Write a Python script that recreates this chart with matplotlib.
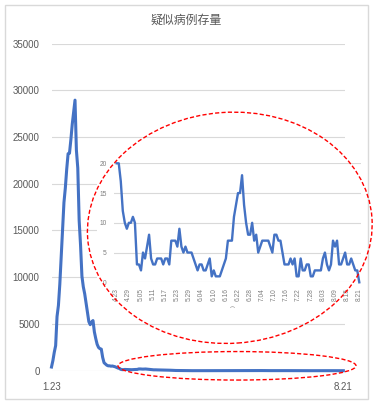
import matplotlib
matplotlib.use('Agg')
import matplotlib.pyplot as plt
import numpy as np
import pandas as pd
from matplotlib.patches import Ellipse, Rectangle

plt.rcParams['font.family'] = ['Liberation Sans', 'Noto Sans CJK SC', 'DejaVu Sans']

# categories: one point per day, 1.23 -> 8.21
dates = pd.date_range('2020-01-23', '2020-08-21')
date_labels = [f'{d.month}.{d.day:02d}' for d in dates]

# suspected cases, 1.23 -> 4.22
early_values = [393, 1072, 1965, 2684, 5794, 6973, 9239, 12167, 15238, 17988,
                19544, 21558, 23214, 23260, 24702, 26359, 27657, 28942, 23589, 21675,
                16067, 13435, 10109, 8969, 8228, 7264, 6242, 5248, 4922, 5206,
                5365, 4148, 3434, 2824, 2491, 2358, 2308, 1418, 851, 715,
                587, 520, 522, 482, 502, 458, 421, 349, 285, 253,
                147, 115, 113, 134, 128, 119, 105, 104, 106, 118,
                136, 132, 134, 184, 189, 174, 168, 174, 183, 172,
                153, 135, 112, 107, 91, 94, 85, 84, 81, 73,
                72, 72, 72, 65, 62, 57, 50, 41, 34, 26,
                23]

# suspected cases, 4.23 -> 8.21
late_values = [20, 20, 17, 12, 10, 9, 10, 10, 11, 10,
               3, 3, 2, 5, 4, 6, 8, 4, 3, 3,
               4, 4, 4, 3, 4, 4, 3, 7, 7, 7,
               6, 9, 6, 5, 6, 5, 5, 5, 4, 3,
               2, 3, 3, 2, 2, 3, 4, 1, 2, 1,
               1, 1, 2, 3, 4, 7, 7, 7, 11, 13,
               15, 15, 18, 13, 10, 8, 8, 10, 7, 8,
               5, 6, 7, 7, 7, 7, 6, 5, 8, 8,
               7, 7, 5, 3, 3, 3, 4, 3, 4, 1,
               1, 4, 2, 2, 3, 3, 1, 1, 2, 2,
               2, 2, 4, 5, 3, 2, 3, 7, 6, 7,
               3, 3, 4, 5, 3, 3, 4, 3, 2, 2,
               0]

values = early_values + late_values
late_labels = date_labels[len(early_values):]

W, H = 376, 405
BLUE = '#4472C4'
GRID = '#D9D9D9'

fig = plt.figure(figsize=(W / 100, H / 100), dpi=100)


# pixel box (left, top, right, bottom) -> figure fraction rect
def box(l, t, r, b):
    return [l / W, 1 - b / H, (r - l) / W, (b - t) / H]


# main chart
ax = fig.add_axes(box(51.5, 43.5, 345, 370.7))
ax.plot(np.arange(len(values)), values, color=BLUE, lw=2.2, clip_on=False,
        solid_joinstyle='round')
ax.set_xlim(0, 212.2)
ax.set_ylim(0, 35000)
ax.set_yticks(range(0, 35001, 5000))
ax.grid(axis='y', color=GRID, lw=0.8)
ax.set_axisbelow(True)
for s in ax.spines.values():
    s.set_visible(False)
ax.tick_params(length=0, labelsize=7, labelcolor='#595959')
ax.tick_params(axis='y', pad=8.6)
ax.tick_params(axis='x', pad=8)
ax.set_xticks([0, len(values) - 1], [date_labels[0], date_labels[-1]])

# white backing of the pasted inset
bg = fig.add_axes(box(97, 145, 362, 312))
bg.set_xticks([])
bg.set_yticks([])
for s in bg.spines.values():
    s.set_visible(False)

# inset: 4.23 -> 8.21
ins = fig.add_axes(box(113.7, 163.3, 360.9, 282.3))
ins.patch.set_alpha(0)
ins.plot(np.arange(len(late_values)), late_values, color=BLUE, lw=1.7,
         clip_on=False)
ins.set_xlim(-1.5, 120.8)
ins.set_ylim(0, 20)
ins.set_yticks(range(0, 21, 5))
ins.grid(axis='y', color=GRID, lw=0.8)
ins.set_axisbelow(True)
for s in ins.spines.values():
    s.set_visible(False)
ins.tick_params(length=0, labelsize=4.8, labelcolor='#7F7F7F')
ins.tick_params(axis='y', pad=5)
ins.tick_params(axis='x', pad=4)
tick_idx = list(range(0, len(late_values), 6))
ins.set_xticks(tick_idx, [late_labels[i] for i in tick_idx], rotation=90)
fig.text(233 / W, 1 - 306 / H, ')', rotation=90, fontsize=4, color='#7F7F7F',
         ha='center', va='center')

# title
fig.text(186 / W, 1 - 20.7 / H, '疑似病例存量', ha='center', va='center',
         fontsize=8.6, color='#595959', family='Noto Sans CJK SC')

# outer chart border
fig.add_artist(Rectangle((5 / 100, (H - 399.3) / 100), 362.7 / 100, 394.3 / 100,
                         transform=fig.dpi_scale_trans, fill=False,
                         ec=GRID, lw=1))

# red dashed rings
dash = (0, (3, 1.6))
fig.add_artist(Ellipse((229.8 / 100, (H - 227.8) / 100), 2.85, 2.31, angle=4,
                       transform=fig.dpi_scale_trans, fill=False,
                       ec='red', lw=1, ls=dash))
fig.add_artist(Ellipse((237 / 100, (H - 365.8) / 100), 2.38, 0.285, angle=0,
                       transform=fig.dpi_scale_trans, fill=False,
                       ec='red', lw=1, ls=dash))

fig.savefig('out.png', dpi=100)
